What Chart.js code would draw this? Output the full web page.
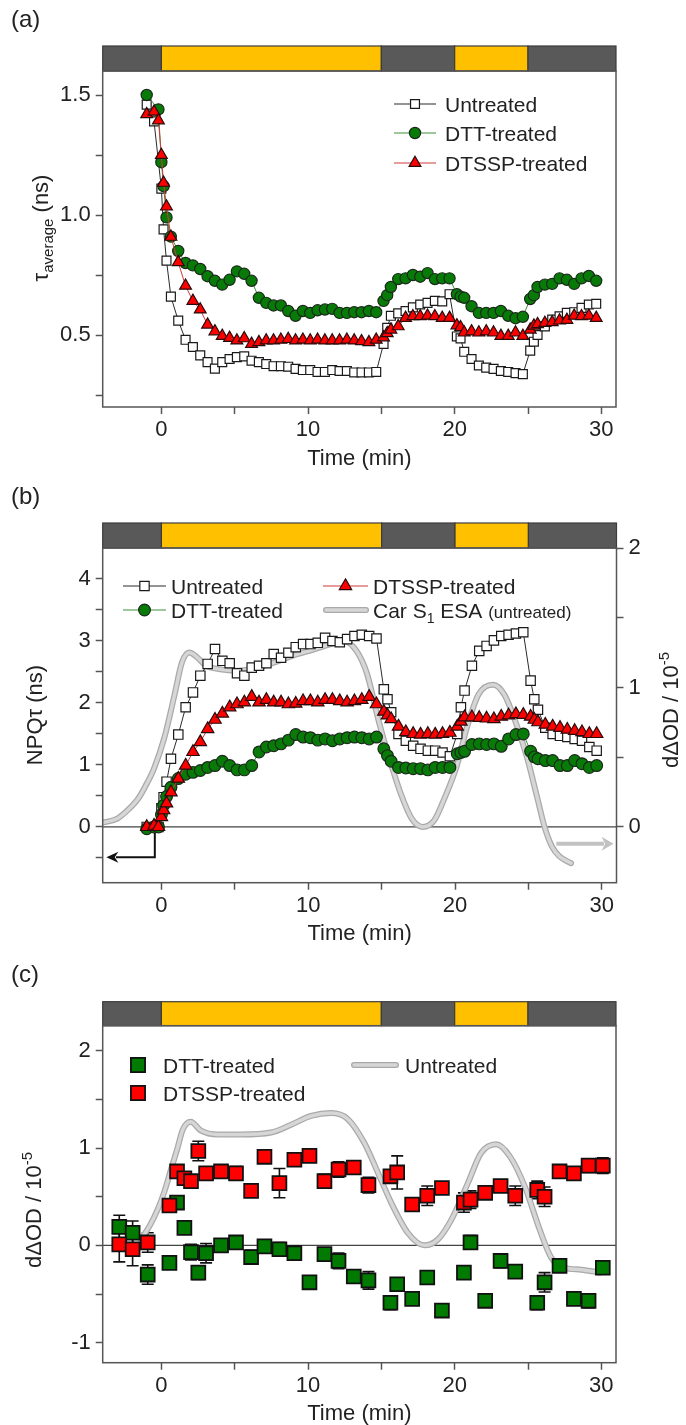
<!DOCTYPE html>
<html>
<head>
<meta charset="utf-8">
<script src="https://cdn.jsdelivr.net/npm/chart.js@4.4.1/dist/chart.umd.min.js"></script>
<style>
  html, body { margin: 0; padding: 0; background: #fff; overflow: hidden; }
  .panel { position: absolute; left: 0; width: 686px; }
  canvas { display: block; }
</style>
</head>
<body>
<div class="panel" style="top:0"><canvas id="chartA" width="686" height="480"></canvas></div>
<div class="panel" style="top:480px"><canvas id="chartB" width="686" height="480"></canvas></div>
<div class="panel" style="top:960px"><canvas id="chartC" width="686" height="465"></canvas></div>
<script>
// light / dark periods and time axis
const phaseEdges = [-4, 0, 15, 20, 25, 31];
const phaseLight = [false, true, false, true, false];
const timeTicks = [0, 5, 10, 15, 20, 25, 30];
const timeLabels = [0, 10, 20, 30];

// panels (a) and (b): sampling times (min)
const timeAB = [-1.0, -0.5, -0.2, 0.0, 0.15, 0.35, 0.65, 1.15, 1.65, 2.15,
  2.65, 3.15, 3.65, 4.15, 4.65, 5.15, 5.65, 6.15, 6.65, 7.15,
  7.65, 8.15, 8.65, 9.15, 9.65, 10.15, 10.65, 11.15, 11.65, 12.15,
  12.65, 13.15, 13.65, 14.15, 14.65, 15.15, 15.4, 15.65, 16.15, 16.65,
  17.15, 17.65, 18.15, 18.65, 19.15, 19.65, 20.15, 20.4, 20.65, 21.15,
  21.65, 22.15, 22.65, 23.15, 23.65, 24.15, 24.65, 25.15, 25.4, 25.65,
  26.15, 26.65, 27.15, 27.65, 28.15, 28.65, 29.15, 29.65];

// (a) average lifetime (ns)
const tauUntreated = [1.46, 1.39, null, 1.11, 0.94, 0.81, 0.66, 0.56, 0.48, 0.45,
  0.415, 0.387, 0.36, 0.387, 0.40, 0.408, 0.411, 0.393, 0.387, 0.379,
  0.37, 0.37, 0.368, 0.359, 0.354, 0.354, 0.346, 0.346, 0.354, 0.35,
  0.35, 0.344, 0.344, 0.344, 0.346, 0.463, 0.53, 0.58, 0.59, 0.60,
  0.615, 0.627, 0.634, 0.642, 0.64, 0.67, 0.494, 0.486, 0.43, 0.40,
  0.373, 0.364, 0.359, 0.35, 0.346, 0.341, 0.337, 0.435, 0.472, 0.50,
  0.536, 0.564, 0.578, 0.592, 0.595, 0.613, 0.627, 0.63];
const tauDTT = [1.50, null, 1.44, 1.22, 1.12, 0.99, 0.91, 0.85, 0.80, 0.79,
  0.775, 0.745, 0.726, 0.71, 0.73, 0.765, 0.755, 0.726, 0.655, 0.634,
  0.623, 0.623, 0.60, 0.58, 0.60, 0.592, 0.603, 0.606, 0.609, 0.592,
  0.592, 0.595, 0.595, 0.60, 0.595, 0.642, 0.666, 0.70, 0.733, 0.736,
  0.75, 0.743, 0.758, 0.733, 0.736, 0.736, 0.67, 0.66, 0.655, 0.62,
  0.592, 0.592, 0.592, 0.60, 0.58, 0.57, 0.576, 0.65, 0.666, 0.70,
  0.71, 0.713, 0.736, 0.73, 0.713, 0.736, 0.746, 0.726];
const tauDTSSP = [1.42, 1.43, 1.394, 1.25, 1.134, 1.035, 0.909, 0.803, 0.705, 0.642,
  0.606, 0.543, 0.515, 0.496, 0.488, 0.477, 0.486, 0.463, 0.47, 0.477,
  0.477, 0.48, 0.483, 0.477, 0.48, 0.477, 0.48, 0.477, 0.477, 0.477,
  0.48, 0.477, 0.474, 0.47, 0.48, 0.49, 0.507, 0.522, 0.536, 0.571,
  0.578, 0.578, 0.58, 0.578, 0.571, 0.571, 0.54, 0.532, 0.51, 0.515,
  0.51, 0.515, 0.51, 0.496, 0.496, 0.51, 0.496, 0.522, 0.539, 0.545,
  0.55, 0.553, 0.56, 0.563, 0.58, 0.578, 0.58, 0.571];
const tauTicks = [0.25, 0.5, 0.75, 1.0, 1.25, 1.5];
const tauLabels = [0.5, 1.0, 1.5];

// (b) NPQ tau (ns)
const npqUntreated = [0.0, null, 0.0, 0.3, 0.48, 0.73, 1.10, 1.49, 1.93, 2.17,
  2.44, 2.63, 2.87, 2.68, 2.64, 2.48, 2.44, 2.57, 2.6, 2.64,
  2.79, 2.73, 2.81, 2.9, 2.95, 2.95, 2.97, 3.05, 3.0, 2.98,
  3.03, 3.08, 3.1, 3.08, 3.04, 2.22, 2.06, 1.85, 1.5, 1.39,
  1.31, 1.26, 1.23, 1.23, 1.2, 1.14, 1.5, 1.93, 2.2, 2.6,
  2.84, 2.92, 3.01, 3.08, 3.1, 3.12, 3.14, 2.36, 2.06, 1.89,
  1.6, 1.5, 1.47, 1.45, 1.42, 1.39, 1.29, 1.23];
const npqDTT = [-0.03, 0.0, 0.0, 0.2, 0.35, 0.49, 0.64, 0.78, 0.85, 0.88,
  0.91, 0.96, 0.99, 1.06, 0.99, 0.92, 0.92, 0.99, 1.21, 1.29,
  1.31, 1.34, 1.40, 1.49, 1.45, 1.44, 1.40, 1.42, 1.39, 1.42,
  1.44, 1.45, 1.44, 1.42, 1.45, 1.26, 1.15, 1.06, 0.96, 0.95,
  0.94, 0.94, 0.92, 0.96, 0.96, 0.96, 1.18, 1.2, 1.22, 1.33,
  1.34, 1.33, 1.34, 1.3, 1.42, 1.49, 1.5, 1.22, 1.13, 1.10,
  1.07, 1.07, 0.99, 0.99, 1.07, 1.02, 0.96, 0.99];
const npqDTSSP = [0.0, 0.02, 0.0, 0.16, 0.27, 0.38, 0.56, 0.78, 0.99, 1.21,
  1.37, 1.58, 1.73, 1.83, 1.93, 1.98, 2.01, 2.1, 2.01, 2.05,
  2.01, 2.01, 1.98, 1.99, 2.03, 2.03, 2.01, 2.05, 2.05, 2.03,
  2.01, 2.03, 2.05, 2.1, 1.98, 1.86, 1.8, 1.74, 1.62, 1.53,
  1.5, 1.49, 1.5, 1.49, 1.5, 1.52, 1.62, 1.7, 1.77, 1.77,
  1.76, 1.75, 1.74, 1.78, 1.8, 1.82, 1.81, 1.78, 1.73, 1.69,
  1.65, 1.62, 1.6, 1.57, 1.55, 1.53, 1.5, 1.5];
const npqTicks = [-0.5, 0, 0.5, 1, 1.5, 2, 2.5, 3, 3.5, 4];
const npqLabels = [0, 1, 2, 3, 4];

// (b) Car S1 ESA, untreated (right axis)
const esaTime = [-4, -3, -2.3, -1.6, -1.1, -0.5, 0.2, 0.9, 1.4, 1.9,
  2.4, 3.0, 4.0, 5.2, 6.5, 7.7, 9.0, 10.3, 11.5, 12.5,
  13.3, 14.0, 14.8, 15.5, 16.3, 17.05, 17.8, 18.6, 19.3, 20.1,
  20.8, 21.6, 22.6, 23.35, 24.1, 24.9, 25.6, 26.1, 26.6, 27.1, 27.9];
const esaUntreated = [0.03, 0.06, 0.12, 0.2, 0.29, 0.42, 0.64, 0.95, 1.18, 1.25,
  1.22, 1.16, 1.13, 1.12, 1.14, 1.18, 1.23, 1.27, 1.31, 1.33,
  1.26, 1.10, 0.76, 0.5, 0.24, 0.06, 0.0, 0.05, 0.21, 0.43,
  0.71, 0.95, 1.02, 0.95, 0.76, 0.5, 0.21, 0.0, -0.14, -0.21, -0.26];
const odTicks = [0, 0.5, 1, 1.5, 2];
const odLabels = [0, 1, 2];

// (c) dDeltaOD with error bars
const timeC = [-2.87, -1.96, -0.93, 0.55, 1.07, 1.57, 2.02, 2.52, 3.05, 4.07,
  5.09, 6.12, 7.03, 8.05, 9.07, 10.1, 11.12, 12.08, 13.12, 14.12,
  15.62, 16.08, 17.1, 18.13, 19.13, 20.63, 21.08, 22.08, 23.13, 24.13,
  25.63, 26.13, 27.15, 28.13, 29.13, 30.1];
const odDTT = [0.19, 0.13, -0.30, -0.18, 0.44, 0.18, -0.07, -0.28, -0.08, 0.0,
  0.03, -0.12, -0.01, -0.04, -0.08, -0.38, -0.09, -0.16, -0.32, -0.36,
  -0.59, -0.40, -0.55, -0.33, -0.67, -0.28, 0.03, -0.57, -0.16, -0.27,
  -0.59, -0.38, -0.21, -0.55, -0.57, -0.23];
const odDTTErr = [0.12, 0.12, 0.1, 0.04, 0.04, 0.03, 0.08, 0.07, 0.1, 0.05,
  0.04, 0.07, 0.03, 0.07, 0.07, 0.05, 0.04, 0.08, 0.05, 0.09,
  0.07, 0.05, 0.05, 0.03, 0.04, 0.04, 0.07, 0.06, 0.07, 0.04,
  0.07, 0.1, 0.06, 0.04, 0.07, 0.06];
const odDTSSP = [0.01, -0.04, 0.03, 0.41, 0.76, 0.69, 0.66, 0.97, 0.74, 0.76,
  0.74, 0.56, 0.91, 0.64, 0.88, 0.92, 0.66, 0.78, 0.80, 0.62,
  0.71, 0.75, 0.42, 0.51, 0.59, 0.44, 0.47, 0.54, 0.61, 0.51,
  0.57, 0.50, 0.76, 0.74, 0.82, 0.82];
const odDTSSPErr = [0.18, 0.17, 0.1, 0.04, 0.05, 0.04, 0.03, 0.1, 0.04, 0.05,
  0.07, 0.05, 0.05, 0.15, 0.04, 0.06, 0.07, 0.08, 0.04, 0.08,
  0.04, 0.17, 0.04, 0.1, 0.04, 0.1, 0.09, 0.04, 0.06, 0.1,
  0.09, 0.1, 0.06, 0.06, 0.07, 0.08];
const esaTimeC = [-1.4, -0.8, -0.25, 0.2, 0.66, 1.1, 1.46, 2.0, 2.7, 3.84,
  5.44, 7.48, 8.85, 10.2, 11.58, 12.7, 13.85, 14.76, 15.67, 16.8,
  17.94, 18.85, 19.76, 20.9, 21.8, 22.83, 23.74, 24.77, 25.8, 26.6,
  27.5, 28.63, 29.54, 29.9];
const esaC = [0.06, 0.2, 0.37, 0.55, 0.78, 1.0, 1.19, 1.27, 1.18, 1.14,
  1.14, 1.16, 1.24, 1.33, 1.36, 1.3, 1.05, 0.75, 0.44, 0.13,
  0.0, 0.06, 0.26, 0.64, 0.95, 1.04, 0.92, 0.61, 0.16, -0.13,
  -0.23, -0.25, -0.27, -0.28];
const odTicksC = [-1, -0.5, 0, 0.5, 1, 1.5, 2];
const odLabelsC = [-1, 0, 1, 2];

const FONT = '"Liberation Sans", Arial, Helvetica, sans-serif';
const INK = '#222';
Chart.defaults.font.family = FONT;
Chart.defaults.font.size = 22;
Chart.defaults.color = INK;
Chart.defaults.animation = false;
Chart.defaults.events = [];
Chart.defaults.plugins.legend.display = false;
Chart.defaults.plugins.tooltip.enabled = false;

const styles = {
  untreated: { pointStyle: 'rect', radius: 6.3, fill: '#ffffff', edge: '#1a1a1a', line: '#2a2a2a' },
  dtt: { pointStyle: 'circle', radius: 5.6, fill: '#087a08', edge: '#1a2a1a', line: '#3f8f3f' },
  dtssp: { pointStyle: 'triangle', radius: 6.8, fill: '#ff0000', edge: '#2a0a0a', line: '#d03a3a' }
};

function points(xs, ys) {
  return xs.map((x, i) => ({ x: x, y: ys[i] }));
}

function lineSeries(xs, ys, st, k) {
  return {
    data: points(xs, ys), showLine: true, spanGaps: true,
    borderColor: st.line, borderWidth: 1,
    pointStyle: st.pointStyle, pointRadius: st.radius * k,
    pointBackgroundColor: st.fill, pointBorderColor: st.edge, pointBorderWidth: 1.2
  };
}

function grayLine(xs, ys, outer, axis) {
  return {
    data: points(xs, ys), showLine: true, pointRadius: 0,
    borderColor: outer ? '#a9a9a9' : '#d6d6d6', borderWidth: outer ? 6 : 3.5,
    cubicInterpolationMode: 'monotone', borderCapStyle: 'round', yAxisID: axis
  };
}

function markerSeries(xs, ys, fill) {
  return {
    data: points(xs, ys), showLine: false, pointStyle: 'rect', pointRadius: 9.8,
    pointBackgroundColor: fill, pointBorderColor: '#111', pointBorderWidth: 1.8
  };
}

function timeAxis(h) {
  return {
    type: 'linear', min: -4, max: 31,
    afterBuildTicks: s => { s.ticks = timeTicks.map(v => ({ value: v })); },
    afterFit: s => { s.height = h; },
    ticks: { autoSkip: false, maxRotation: 0, padding: 3, callback: v => timeLabels.includes(v) ? String(v) : '' },
    grid: { drawOnChartArea: false, tickLength: 7, tickColor: '#555', tickWidth: 1.5 },
    border: { display: false }
  };
}

function valueAxis(pos, min, max, tickVals, labelVals, fmt, w) {
  return {
    type: 'linear', position: pos, min: min, max: max,
    afterBuildTicks: s => { s.ticks = tickVals.map(v => ({ value: v })); },
    afterFit: s => { s.width = w; },
    ticks: { padding: 5, callback: v => labelVals.includes(v) ? fmt(v) : '' },
    grid: { drawOnChartArea: false, tickLength: 7, tickColor: '#555', tickWidth: 1.5 },
    border: { display: false }
  };
}

// text made of pieces (for sub- and superscripts); y is the middle of the capitals
function drawRich(ctx, parts, x, y, angle, align) {
  const base = parts[0].size || 22;
  ctx.save();
  ctx.translate(x, y);
  ctx.rotate(angle || 0);
  ctx.fillStyle = INK;
  ctx.textBaseline = 'alphabetic';
  ctx.textAlign = 'left';
  let total = 0;
  parts.forEach(p => {
    ctx.font = (p.size || 22) + 'px ' + FONT;
    p.w = ctx.measureText(p.t).width;
    total += p.w;
  });
  let cx = align === 'left' ? 0 : -total / 2;
  parts.forEach(p => {
    ctx.font = (p.size || 22) + 'px ' + FONT;
    ctx.fillText(p.t, cx, base * 0.36 + (p.dy || 0));
    cx += p.w;
  });
  ctx.restore();
}

function drawPhaseBar(chart, h) {
  const ctx = chart.ctx, a = chart.chartArea, x = chart.scales.x;
  ctx.save();
  for (let i = 0; i < phaseLight.length; i++) {
    const x0 = x.getPixelForValue(phaseEdges[i]);
    const x1 = x.getPixelForValue(phaseEdges[i + 1]);
    ctx.fillStyle = phaseLight[i] ? '#ffc000' : '#595959';
    ctx.fillRect(x0, a.top - h, x1 - x0, h);
    ctx.strokeStyle = '#3c3c3c';
    ctx.lineWidth = 1.2;
    ctx.strokeRect(x0, a.top - h, x1 - x0, h);
  }
  ctx.restore();
}

function drawFrame(chart) {
  const ctx = chart.ctx, a = chart.chartArea;
  ctx.save();
  ctx.strokeStyle = '#555';
  ctx.lineWidth = 1.5;
  ctx.strokeRect(a.left, a.top, a.right - a.left, a.bottom - a.top);
  ctx.restore();
}

function drawZeroLine(chart, axis) {
  const ctx = chart.ctx, a = chart.chartArea;
  const y = chart.scales[axis].getPixelForValue(0);
  ctx.save();
  ctx.strokeStyle = '#444';
  ctx.lineWidth = 1.2;
  ctx.beginPath();
  ctx.moveTo(a.left, y);
  ctx.lineTo(a.right, y);
  ctx.stroke();
  ctx.restore();
}

function legendLine(ctx, st, x0, x1, y, k) {
  ctx.save();
  ctx.strokeStyle = st.line;
  ctx.lineWidth = 1.2;
  ctx.beginPath();
  ctx.moveTo(x0, y);
  ctx.lineTo(x1, y);
  ctx.stroke();
  ctx.fillStyle = st.fill;
  ctx.strokeStyle = st.edge;
  ctx.lineWidth = 1.2;
  Chart.helpers.drawPoint(ctx, { pointStyle: st.pointStyle, radius: st.radius * k, borderWidth: 1.2, rotation: 0 }, (x0 + x1) / 2, y);
  ctx.restore();
}

function legendGray(ctx, x0, x1, y) {
  ctx.save();
  ctx.lineCap = 'round';
  ctx.strokeStyle = '#a9a9a9';
  ctx.lineWidth = 6;
  ctx.beginPath(); ctx.moveTo(x0, y); ctx.lineTo(x1, y); ctx.stroke();
  ctx.strokeStyle = '#d6d6d6';
  ctx.lineWidth = 3.5;
  ctx.beginPath(); ctx.moveTo(x0, y); ctx.lineTo(x1, y); ctx.stroke();
  ctx.restore();
}

function legendSquare(ctx, fill, x, y) {
  ctx.save();
  ctx.fillStyle = fill;
  ctx.strokeStyle = '#111';
  ctx.lineWidth = 1.8;
  Chart.helpers.drawPoint(ctx, { pointStyle: 'rect', radius: 10, borderWidth: 1.8, rotation: 0 }, x, y);
  ctx.restore();
}

function arrow(ctx, pts, color, width, head, half) {
  const n = pts.length;
  const [tx, ty] = pts[n - 1];
  const [px, py] = pts[n - 2];
  const len = Math.hypot(tx - px, ty - py);
  const ux = (tx - px) / len, uy = (ty - py) / len;
  ctx.save();
  ctx.strokeStyle = color;
  ctx.fillStyle = color;
  ctx.lineWidth = width;
  ctx.beginPath();
  ctx.moveTo(pts[0][0], pts[0][1]);
  for (let i = 1; i < n - 1; i++) ctx.lineTo(pts[i][0], pts[i][1]);
  ctx.lineTo(tx - ux * head * 0.8, ty - uy * head * 0.8);
  ctx.stroke();
  ctx.beginPath();
  ctx.moveTo(tx, ty);
  ctx.lineTo(tx - ux * head - uy * half, ty - uy * head + ux * half);
  ctx.lineTo(tx - ux * head * 0.7, ty - uy * head * 0.7);
  ctx.lineTo(tx - ux * head + uy * half, ty - uy * head - ux * half);
  ctx.closePath();
  ctx.fill();
  ctx.restore();
}

function errorBars(chart, xs, ys, es) {
  const ctx = chart.ctx, x = chart.scales.x, y = chart.scales.y;
  ctx.save();
  ctx.strokeStyle = '#111';
  ctx.lineWidth = 1.6;
  xs.forEach((t, i) => {
    const px = x.getPixelForValue(t);
    const lo = y.getPixelForValue(ys[i] - es[i]);
    const hi = y.getPixelForValue(ys[i] + es[i]);
    ctx.beginPath();
    ctx.moveTo(px, lo); ctx.lineTo(px, hi);
    ctx.moveTo(px - 6, lo); ctx.lineTo(px + 6, lo);
    ctx.moveTo(px - 6, hi); ctx.lineTo(px + 6, hi);
    ctx.stroke();
  });
  ctx.restore();
}

const timeTitle = [{ t: 'Time (min)' }];
const odTitle = [{ t: 'd\u0394OD / 10' }, { t: '-5', size: 15, dy: -9 }];

// ---------- (a) ----------
new Chart(document.getElementById('chartA'), {
  type: 'scatter',
  data: {
    datasets: [
      lineSeries(timeAB, tauDTSSP, styles.dtssp, 1),
      lineSeries(timeAB, tauDTT, styles.dtt, 1),
      lineSeries(timeAB, tauUntreated, styles.untreated, 1)
    ]
  },
  options: {
    responsive: false,
    layout: { padding: { top: 71, right: 70, left: 0, bottom: 0 } },
    scales: {
      x: timeAxis(73),
      y: valueAxis('left', 0.2, 1.6, tauTicks, tauLabels, v => v.toFixed(1), 102.7)
    }
  },
  plugins: [{
    id: 'panelA',
    afterDraw(chart) {
      const ctx = chart.ctx, a = chart.chartArea;
      drawPhaseBar(chart, 25);
      drawFrame(chart);
      drawRich(ctx, [{ t: '(a)', size: 24 }], 11, 18, 0, 'left');
      drawRich(ctx, [{ t: '\u03c4' }, { t: 'average', size: 15, dy: 5 }, { t: ' (ns)' }], 40, 228, -Math.PI / 2);
      drawRich(ctx, timeTitle, (a.left + a.right) / 2, 457);
      legendLine(ctx, styles.untreated, 394, 436, 104, 1);
      legendLine(ctx, styles.dtt, 394, 436, 133, 1);
      legendLine(ctx, styles.dtssp, 394, 436, 163, 1);
      drawRich(ctx, [{ t: 'Untreated', size: 21 }], 445, 104, 0, 'left');
      drawRich(ctx, [{ t: 'DTT-treated', size: 21 }], 445, 133, 0, 'left');
      drawRich(ctx, [{ t: 'DTSSP-treated', size: 21 }], 445, 163, 0, 'left');
    }
  }]
});

// ---------- (b) ----------
new Chart(document.getElementById('chartB'), {
  type: 'scatter',
  data: {
    datasets: [
      lineSeries(timeAB, npqDTSSP, styles.dtssp, 1.05),
      lineSeries(timeAB, npqDTT, styles.dtt, 1.05),
      lineSeries(timeAB, npqUntreated, styles.untreated, 1.05),
      grayLine(esaTime, esaUntreated, false, 'y2'),
      grayLine(esaTime, esaUntreated, true, 'y2')
    ]
  },
  options: {
    responsive: false,
    layout: { padding: { top: 68, right: 0, left: 0, bottom: 0 } },
    scales: {
      x: timeAxis(77.3),
      y: valueAxis('left', -0.9, 4.5, npqTicks, npqLabels, v => String(v), 102.7),
      y2: valueAxis('right', -0.4, 2.0, odTicks, odLabels, v => String(v), 69.5)
    }
  },
  plugins: [{
    id: 'panelB',
    beforeDatasetsDraw(chart) {
      drawZeroLine(chart, 'y');
    },
    afterDraw(chart) {
      const ctx = chart.ctx, a = chart.chartArea, x = chart.scales.x, y = chart.scales.y;
      drawPhaseBar(chart, 25);
      drawFrame(chart);
      arrow(ctx, [[x.getPixelForValue(-0.45), y.getPixelForValue(-0.1)],
        [x.getPixelForValue(-0.45), y.getPixelForValue(-0.49)],
        [x.getPixelForValue(-3.75), y.getPixelForValue(-0.49)]], '#111', 2, 12, 5.5);
      arrow(ctx, [[x.getPixelForValue(26.9), y.getPixelForValue(-0.27)],
        [x.getPixelForValue(30.8), y.getPixelForValue(-0.27)]], '#c2c2c2', 4, 12, 7);
      drawRich(ctx, [{ t: '(b)', size: 24 }], 11, 15, 0, 'left');
      drawRich(ctx, [{ t: 'NPQ\u03c4 (ns)' }], 34, 235, -Math.PI / 2);
      drawRich(ctx, odTitle, 670, 230, -Math.PI / 2);
      drawRich(ctx, timeTitle, (a.left + a.right) / 2, 452);
      legendLine(ctx, styles.untreated, 123, 166, 106, 1.05);
      legendLine(ctx, styles.dtt, 123, 166, 130, 1.05);
      legendLine(ctx, styles.dtssp, 323, 368, 106, 1.05);
      legendGray(ctx, 326, 366, 130);
      drawRich(ctx, [{ t: 'Untreated', size: 21 }], 171, 106, 0, 'left');
      drawRich(ctx, [{ t: 'DTT-treated', size: 21 }], 171, 130, 0, 'left');
      drawRich(ctx, [{ t: 'DTSSP-treated', size: 21 }], 373, 106, 0, 'left');
      drawRich(ctx, [{ t: 'Car S', size: 21 }, { t: '1', size: 14, dy: 5 }, { t: ' ESA ', size: 21 }, { t: '(untreated)', size: 17 }], 373, 130, 0, 'left');
    }
  }]
});

// ---------- (c) ----------
new Chart(document.getElementById('chartC'), {
  type: 'scatter',
  data: {
    datasets: [
      markerSeries(timeC, odDTSSP, '#ff0000'),
      markerSeries(timeC, odDTT, '#007a00'),
      grayLine(esaTimeC, esaC, false, 'y'),
      grayLine(esaTimeC, esaC, true, 'y')
    ]
  },
  options: {
    responsive: false,
    layout: { padding: { top: 65.7, right: 70, left: 0, bottom: 0 } },
    scales: {
      x: timeAxis(62.3),
      y: valueAxis('left', -1.206, 2.258, odTicksC, odLabelsC, v => String(v), 102.7)
    }
  },
  plugins: [{
    id: 'panelC',
    beforeDatasetsDraw(chart) {
      drawZeroLine(chart, 'y');
      errorBars(chart, timeC, odDTSSP, odDTSSPErr);
      errorBars(chart, timeC, odDTT, odDTTErr);
    },
    afterDraw(chart) {
      const ctx = chart.ctx, a = chart.chartArea;
      drawPhaseBar(chart, 24);
      drawFrame(chart);
      drawRich(ctx, [{ t: '(c)', size: 24 }], 11, 13, 0, 'left');
      drawRich(ctx, odTitle, 33, 250, -Math.PI / 2);
      drawRich(ctx, timeTitle, (a.left + a.right) / 2, 452);
      legendSquare(ctx, '#007a00', 138, 105);
      legendSquare(ctx, '#ff0000', 138, 133);
      legendGray(ctx, 354, 396, 105);
      drawRich(ctx, [{ t: 'DTT-treated', size: 21 }], 163, 105, 0, 'left');
      drawRich(ctx, [{ t: 'DTSSP-treated', size: 21 }], 163, 133, 0, 'left');
      drawRich(ctx, [{ t: 'Untreated', size: 21 }], 405, 105, 0, 'left');
    }
  }]
});
</script>
</body>
</html>
